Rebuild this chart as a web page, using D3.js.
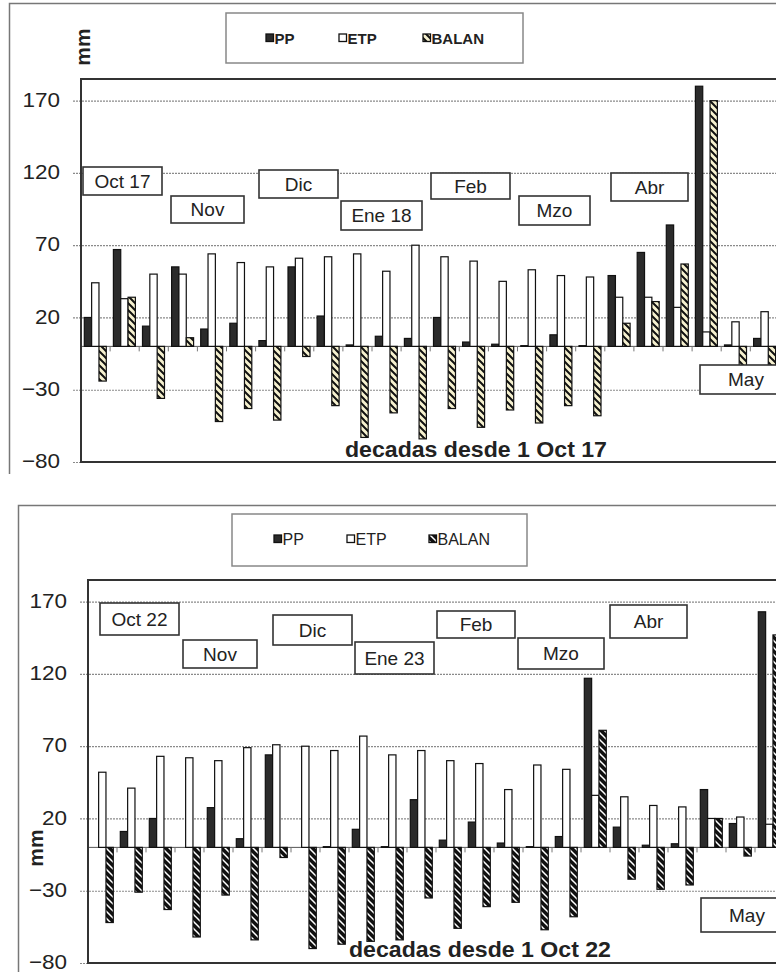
<!DOCTYPE html>
<html>
<head>
<meta charset="utf-8">
<script src="https://cdn.jsdelivr.net/npm/d3@7"></script>
<style>
  html, body { margin: 0; padding: 0; background: #fff; overflow: hidden; }
  svg { display: block; font-family: "Liberation Sans", Arial, sans-serif; }
</style>
</head>
<body>
<svg id="chart" width="776" height="972"></svg>
<script>
// Ten-day periods (decadas) from October to May
const decadas = [
  "Oct-1", "Oct-2", "Oct-3", "Nov-1", "Nov-2", "Nov-3",
  "Dic-1", "Dic-2", "Dic-3", "Ene-1", "Ene-2", "Ene-3",
  "Feb-1", "Feb-2", "Feb-3", "Mzo-1", "Mzo-2", "Mzo-3",
  "Abr-1", "Abr-2", "Abr-3", "May-1", "May-2", "May-3"
];
const series = ["PP", "ETP", "BALAN"];
const yTicks = [170, 120, 70, 20, -30, -80];

// Season 2017/18 (mm per decada)
const pp2017    = [20, 67, 14, 55, 12, 16, 4, 55, 21, 1, 7, 5.5, 20, 3, 1.5, 0.5, 8, 0.5, 49, 65, 84, 180, 1, 5.5];
const etp2017   = [44, 33, 50, 50, 64, 58, 55, 61, 62, 64, 52, 70, 62, 59, 45, 53, 49, 48, 34, 34, 27, 10, 17, 24];
const balan2017 = [-24, 34, -36, 6, -52, -43, -51, -7, -41, -63, -46, -64, -43, -56, -44, -53, -41, -48, 16, 31, 57, 170, -16, -19];
const meses2017 = ["Oct 17", "Nov", "Dic", "Ene 18", "Feb", "Mzo", "Abr", "May"];
const titulo2017 = "decadas desde 1 Oct 17";

// Season 2022/23 (mm per decada)
const pp2022    = [0, 11, 20, 0, 27.5, 6, 64, 0, 0.5, 12.5, 0.5, 33, 5, 17.5, 3, 0.5, 7.5, 117, 14, 1.5, 2.5, 40, 16.5, 163];
const etp2022   = [52, 41, 63, 62, 60, 69, 71, 70, 67, 77, 64, 67, 60, 58, 40, 57, 54, 36, 35, 29, 28, 20, 21, 16];
const balan2022 = [-52, -31, -43, -62, -33, -64, -7, -70, -67, -65, -64, -35, -56, -41, -38, -57, -48, 81, -22, -29, -26, 20, -6, 147];
const meses2022 = ["Oct 22", "Nov", "Dic", "Ene 23", "Feb", "Mzo", "Abr", "May"];
const titulo2022 = "decadas desde 1 Oct 22";

const svg = d3.select("#chart");
const defs = svg.append("defs");

function stripes(id, bg, fg, w) {
  const p = defs.append("pattern")
    .attr("id", id).attr("patternUnits", "userSpaceOnUse")
    .attr("width", 7).attr("height", 7);
  p.append("rect").attr("width", 7).attr("height", 7).attr("fill", bg);
  p.append("path").attr("d", "M-1,-1 L8,8 M-1,6 L1,8 M6,-1 L8,1")
    .attr("stroke", fg).attr("stroke-width", w);
}
stripes("balanLight", "#f6f1cf", "#111", 2);
stripes("balanDark", "#111", "#fff", 1.5);

// widen glyphs slightly so text fills its slot
function widen(sel, k) {
  sel.each(function () {
    const w = this.getComputedTextLength();
    this.setAttribute("textLength", w * k);
    this.setAttribute("lengthAdjust", "spacingAndGlyphs");
  });
}

function drawPanel(cfg) {
  const g = svg.append("g");
  const { left, top, bottom, step } = cfg.plot;
  const right = left + step * decadas.length;

  const x = d3.scaleBand().domain(decadas).range([left, right]).padding(0);
  const xs = d3.scaleBand().domain(series).range([3.3, 25.3]).padding(0);
  const y = d3.scaleLinear().domain([-80, 185]).range([bottom, top]);

  // outer frame (left and top edges)
  g.append("path")
    .attr("d", `M${cfg.frame.x},${cfg.frame.yEnd} V${cfg.frame.y} H790`)
    .attr("fill", "none").attr("stroke", "#777").attr("stroke-width", 1.5);

  // legend
  const lg = g.append("g");
  lg.append("rect")
    .attr("x", cfg.legend.x).attr("y", cfg.legend.y)
    .attr("width", cfg.legend.w).attr("height", cfg.legend.h)
    .attr("fill", "#fff").attr("stroke", "#888").attr("stroke-width", 1.5);
  const fills = { PP: "#2b2b2b", ETP: "#fff", BALAN: `url(#${cfg.balanFill})` };
  series.forEach((s, i) => {
    const mx = cfg.legend.items[i];
    lg.append("rect")
      .attr("x", mx).attr("y", cfg.legend.my).attr("width", 7.5).attr("height", 7.5)
      .attr("fill", fills[s]).attr("stroke", "#111").attr("stroke-width", 1.3);
    lg.append("text")
      .attr("x", mx + 8.5).attr("y", cfg.legend.base)
      .attr("font-size", cfg.legend.fs).attr("font-weight", cfg.legend.fw)
      .attr("fill", "#222").text(s);
  });

  // y axis with dotted gridlines
  const ax = g.append("g").attr("transform", `translate(${left},0)`)
    .call(d3.axisLeft(y).tickValues(yTicks).tickSize(8).tickPadding(13).tickFormat(d3.format("d")));
  ax.select(".domain").remove();
  ax.selectAll(".tick line")
    .attr("x1", -8).attr("x2", 800 - left)
    .attr("stroke", "#8a8a8a").attr("stroke-width", 1.2).attr("stroke-dasharray", "2,1");
  ax.selectAll(".tick text")
    .attr("dy", "0.27em")
    .attr("font-size", 21).attr("fill", "#222").attr("font-family", "Liberation Sans, Arial, sans-serif");
  widen(ax.selectAll(".tick text"), 1.07);

  // y axis title
  g.append("text")
    .attr("transform", `translate(${cfg.mm.x},${cfg.mm.y}) rotate(-90)`)
    .attr("text-anchor", "middle").attr("font-size", 21).attr("font-weight", "bold")
    .attr("fill", "#222").text("mm");

  // zero line with category ticks
  const y0 = y(0);
  g.append("line").attr("x1", left).attr("x2", 800).attr("y1", y0).attr("y2", y0)
    .attr("stroke", "#555").attr("stroke-width", 1);
  g.selectAll(".ctick").data(decadas.slice(1)).join("line")
    .attr("x1", d => x(d)).attr("x2", d => x(d))
    .attr("y1", y0).attr("y2", y0 + 5)
    .attr("stroke", "#777").attr("stroke-width", 1);

  // bars
  const rows = decadas.map((d, i) => ({ d, PP: cfg.pp[i], ETP: cfg.etp[i], BALAN: cfg.balan[i] }));
  series.forEach(s => {
    g.append("g").selectAll("rect").data(rows).join("rect")
      .attr("x", r => x(r.d) + xs(s))
      .attr("width", xs.bandwidth())
      .attr("y", r => y(Math.max(0, r[s])))
      .attr("height", r => Math.abs(y(r[s]) - y(0)))
      .attr("fill", fills[s])
      .attr("stroke", "#111").attr("stroke-width", 1.2);
  });

  // plot border
  g.append("path")
    .attr("d", `M800,${top} H${left} V${bottom} H800`)
    .attr("fill", "none").attr("stroke", "#333").attr("stroke-width", 2);

  // month labels
  cfg.meses.forEach((m, i) => {
    const b = cfg.boxes[i];
    g.append("rect").attr("x", b[0]).attr("y", b[1]).attr("width", b[2]).attr("height", b[3])
      .attr("fill", "#fff").attr("stroke", "#333").attr("stroke-width", 1.6);
    g.append("text").attr("x", b[0] + b[2] / 2).attr("y", b[1] + b[3] / 2 + 6.5)
      .attr("text-anchor", "middle").attr("font-size", 19).attr("fill", "#222").text(m);
  });

  // x axis title
  const t = g.append("text").attr("x", cfg.title.x).attr("y", cfg.title.y)
    .attr("font-size", 22).attr("font-weight", "bold").attr("fill", "#222").text(cfg.titulo);
  widen(t, 1.05);
}

drawPanel({
  frame: { x: 9.5, y: 3.5, yEnd: 474 },
  plot: { left: 81, top: 79, bottom: 462, step: 29.1 },
  legend: { x: 226, y: 13, w: 297, h: 50, items: [266, 339, 423], my: 34, base: 43.5, fs: 15, fw: "bold" },
  mm: { x: 90, y: 47 },
  pp: pp2017, etp: etp2017, balan: balan2017, balanFill: "balanLight",
  meses: meses2017,
  boxes: [[83, 167, 79, 28], [171, 196, 73, 27], [259, 170, 79, 28], [341, 201, 81, 29],
          [431, 173, 79, 26], [519, 196, 71, 29], [611, 173, 77, 28], [700, 365, 92, 29]],
  titulo: titulo2017, title: { x: 345, y: 457 }
});

drawPanel({
  frame: { x: 18.5, y: 505.5, yEnd: 972 },
  plot: { left: 88, top: 580, bottom: 963, step: 29 },
  legend: { x: 232, y: 514, w: 295, h: 52, items: [274, 347, 429], my: 535, base: 545, fs: 16, fw: "normal" },
  mm: { x: 43, y: 848 },
  pp: pp2022, etp: etp2022, balan: balan2022, balanFill: "balanDark",
  meses: meses2022,
  boxes: [[100, 603, 79, 32], [183, 640, 74, 28], [273, 615, 79, 30], [355, 642, 79, 32],
          [437, 611, 78, 27], [518, 638, 86, 31], [610, 605, 77, 33], [701, 898, 92, 34]],
  titulo: titulo2022, title: { x: 349, y: 957 }
});
</script>
</body>
</html>
